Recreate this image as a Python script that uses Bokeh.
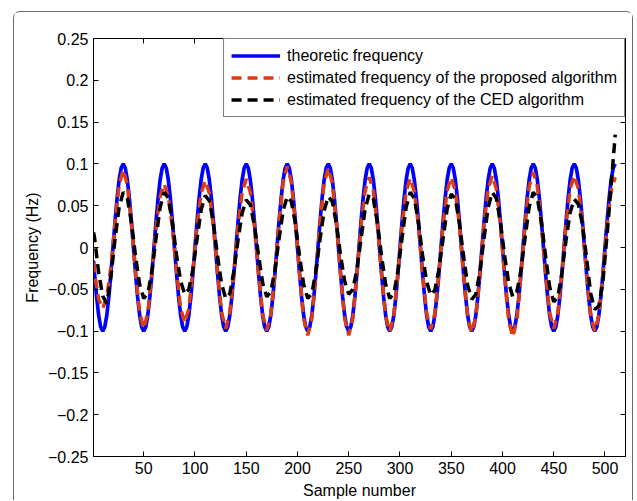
from bokeh.plotting import figure
from bokeh.models import Range1d, FixedTicker, LinearAxis
from bokeh.embed import file_html
from bokeh.resources import INLINE

# ---------------- data ----------------
sample_fine = [1] + list(range(2, 511, 2))      # sample numbers for the theoretic curve
sample_coarse = [1] + list(range(2, 511, 4))    # sample numbers for the estimated curves

theoretic = [
    -0.0156,
    -0.0309, -0.0588, -0.0809, -0.0951, -0.1, -0.0951, -0.0809, -0.0588, -0.0309, 0.0, 0.0309, 0.0588, 0.0809, 0.0951, 0.1, 0.0951, 0.0809, 0.0588, 0.0309, 0.0,
    -0.0309, -0.0588, -0.0809, -0.0951, -0.1, -0.0951, -0.0809, -0.0588, -0.0309, 0.0, 0.0309, 0.0588, 0.0809, 0.0951, 0.1, 0.0951, 0.0809, 0.0588, 0.0309, 0.0,
    -0.0309, -0.0588, -0.0809, -0.0951, -0.1, -0.0951, -0.0809, -0.0588, -0.0309, 0.0, 0.0309, 0.0588, 0.0809, 0.0951, 0.1, 0.0951, 0.0809, 0.0588, 0.0309, 0.0,
    -0.0309, -0.0588, -0.0809, -0.0951, -0.1, -0.0951, -0.0809, -0.0588, -0.0309, 0.0, 0.0309, 0.0588, 0.0809, 0.0951, 0.1, 0.0951, 0.0809, 0.0588, 0.0309, 0.0,
    -0.0309, -0.0588, -0.0809, -0.0951, -0.1, -0.0951, -0.0809, -0.0588, -0.0309, 0.0, 0.0309, 0.0588, 0.0809, 0.0951, 0.1, 0.0951, 0.0809, 0.0588, 0.0309, 0.0,
    -0.0309, -0.0588, -0.0809, -0.0951, -0.1, -0.0951, -0.0809, -0.0588, -0.0309, 0.0, 0.0309, 0.0588, 0.0809, 0.0951, 0.1, 0.0951, 0.0809, 0.0588, 0.0309, 0.0,
    -0.0309, -0.0588, -0.0809, -0.0951, -0.1, -0.0951, -0.0809, -0.0588, -0.0309, 0.0, 0.0309, 0.0588, 0.0809, 0.0951, 0.1, 0.0951, 0.0809, 0.0588, 0.0309, 0.0,
    -0.0309, -0.0588, -0.0809, -0.0951, -0.1, -0.0951, -0.0809, -0.0588, -0.0309, 0.0, 0.0309, 0.0588, 0.0809, 0.0951, 0.1, 0.0951, 0.0809, 0.0588, 0.0309, 0.0,
    -0.0309, -0.0588, -0.0809, -0.0951, -0.1, -0.0951, -0.0809, -0.0588, -0.0309, 0.0, 0.0309, 0.0588, 0.0809, 0.0951, 0.1, 0.0951, 0.0809, 0.0588, 0.0309, 0.0,
    -0.0309, -0.0588, -0.0809, -0.0951, -0.1, -0.0951, -0.0809, -0.0588, -0.0309, 0.0, 0.0309, 0.0588, 0.0809, 0.0951, 0.1, 0.0951, 0.0809, 0.0588, 0.0309, 0.0,
    -0.0309, -0.0588, -0.0809, -0.0951, -0.1, -0.0951, -0.0809, -0.0588, -0.0309, 0.0, 0.0309, 0.0588, 0.0809, 0.0951, 0.1, 0.0951, 0.0809, 0.0588, 0.0309, 0.0,
    -0.0309, -0.0588, -0.0809, -0.0951, -0.1, -0.0951, -0.0809, -0.0588, -0.0309, 0.0, 0.0309, 0.0588, 0.0809, 0.0951, 0.1, 0.0951, 0.0809, 0.0588, 0.0309, 0.0,
    -0.0309, -0.0588, -0.0809, -0.0951, -0.1, -0.0951, -0.0809, -0.0588, -0.0309, 0.0, 0.0309, 0.0588, 0.0809, 0.0951, 0.1,
]

proposed = [
    -0.018,
    -0.030, -0.062,
    -0.073, -0.059, -0.023, 0.029, 0.075, 0.093, 0.075, 0.029, -0.030, -0.078,
    -0.097, -0.078, -0.030, 0.023, 0.061, 0.076, 0.061, 0.023, -0.028, -0.073,
    -0.090, -0.073, -0.028, 0.025, 0.065, 0.080, 0.065, 0.025, -0.030, -0.078,
    -0.097, -0.078, -0.030, 0.025, 0.066, 0.082, 0.066, 0.025, -0.031, -0.080,
    -0.099, -0.080, -0.031, 0.030, 0.078, 0.097, 0.078, 0.030, -0.032, -0.085,
    -0.105, -0.085, -0.032, 0.029, 0.077, 0.095, 0.077, 0.029, -0.032, -0.085,
    -0.105, -0.085, -0.032, 0.026, 0.068, 0.084, 0.068, 0.026, -0.031, -0.082,
    -0.101, -0.082, -0.031, 0.026, 0.067, 0.083, 0.067, 0.026, -0.030, -0.079,
    -0.098, -0.079, -0.030, 0.026, 0.068, 0.084, 0.068, 0.026, -0.032, -0.083,
    -0.102, -0.083, -0.032, 0.027, 0.070, 0.086, 0.070, 0.027, -0.033, -0.087,
    -0.107, -0.087, -0.033, 0.028, 0.073, 0.090, 0.073, 0.028, -0.030, -0.078,
    -0.097, -0.078, -0.030, 0.027, 0.070, 0.086, 0.070, 0.027, -0.031, -0.081,
    -0.100, -0.081, -0.031, 0.026, 0.068, 0.084,
]

ced = [
    0.018,
    0.012, -0.030,
    -0.058, -0.067, -0.035, 0.010, 0.048, 0.066, 0.059, 0.030, -0.010, -0.044,
    -0.061, -0.055, -0.028, 0.011, 0.048, 0.066, 0.059, 0.030, -0.009, -0.040,
    -0.056, -0.050, -0.026, 0.010, 0.045, 0.062, 0.056, 0.029, -0.010, -0.044,
    -0.061, -0.055, -0.028, 0.009, 0.041, 0.057, 0.051, 0.026, -0.009, -0.042,
    -0.059, -0.053, -0.027, 0.010, 0.044, 0.061, 0.055, 0.028, -0.010, -0.044,
    -0.061, -0.055, -0.028, 0.010, 0.044, 0.061, 0.055, 0.028, -0.009, -0.040,
    -0.056, -0.050, -0.026, 0.010, 0.046, 0.064, 0.058, 0.029, -0.010, -0.044,
    -0.061, -0.055, -0.028, 0.011, 0.048, 0.066, 0.059, 0.030, -0.009, -0.041,
    -0.057, -0.051, -0.026, 0.010, 0.046, 0.064, 0.058, 0.029, -0.010, -0.045,
    -0.062, -0.056, -0.029, 0.011, 0.048, 0.066, 0.059, 0.030, -0.009, -0.042,
    -0.059, -0.053, -0.027, 0.011, 0.048, 0.066, 0.059, 0.030, -0.010, -0.047,
    -0.065, -0.059, -0.030, 0.009, 0.042, 0.058, 0.052, 0.027, -0.012, -0.055,
    -0.074, -0.070, -0.040, 0.015, 0.075, 0.135,
]

x_ticks = [50, 100, 150, 200, 250, 300, 350, 400, 450, 500]
y_ticks = [-0.25, -0.2, -0.15, -0.1, -0.05, 0, 0.05, 0.1, 0.15, 0.2, 0.25]
y_tick_labels = ["\u22120.25", "\u22120.2", "\u22120.15", "\u22120.1", "\u22120.05", "0",
                 "0.05", "0.1", "0.15", "0.2", "0.25"]

series_labels = ["theoretic frequency",
                 "estimated frequency of the proposed algorithm",
                 "estimated frequency of the CED algorithm"]

FONT = "Liberation Sans"

# ---------------- figure ----------------
p = figure(width=620, height=489, output_backend="svg", toolbar_location=None,
           x_range=Range1d(1, 520), y_range=Range1d(-0.25, 0.25),
           x_axis_label="Sample number", y_axis_label="Frequency (Hz)",
           min_border_left=79, min_border_right=9, min_border_top=26, min_border_bottom=45)
p.margin = (11, 0, 0, 13)
p.styles = {"border": "1px solid #6a6a6a", "border-bottom": "none",
            "border-radius": "7px 7px 0 0"}

p.xgrid.visible = False
p.ygrid.visible = False
p.outline_line_color = "black"
p.outline_line_width = 1
p.background_fill_color = "white"
p.border_fill_color = "white"

p.line(sample_fine, theoretic, line_color="#0000ff", line_width=3.7,
       legend_label=series_labels[0])
p.line(sample_coarse, proposed, line_color="#dc3c14", line_width=3.5,
       line_dash="10 6", legend_label=series_labels[1])
p.line(sample_coarse, ced, line_color="black", line_width=3.5,
       line_dash="10 6", legend_label=series_labels[2])

top_axis = LinearAxis()
right_axis = LinearAxis()
p.add_layout(top_axis, "above")
p.add_layout(right_axis, "right")

xt = FixedTicker(ticks=x_ticks, minor_ticks=[])
yt = FixedTicker(ticks=y_ticks, minor_ticks=[])
for ax in p.xaxis:
    ax.ticker = xt
for ax in p.yaxis:
    ax.ticker = yt
p.yaxis[0].major_label_overrides = dict(zip(y_ticks, y_tick_labels))

for ax in p.axis:
    ax.axis_line_color = "black"
    ax.axis_line_width = 1
    ax.major_tick_line_color = "black"
    ax.major_tick_in = 5
    ax.major_tick_out = 0
    ax.minor_tick_line_color = None
    ax.major_label_text_font = FONT
    ax.major_label_text_font_size = "16px"
    ax.major_label_text_color = "black"
    ax.axis_label_text_font = FONT
    ax.axis_label_text_font_size = "16px"
    ax.axis_label_text_font_style = "normal"
    ax.axis_label_text_color = "black"

p.xaxis[0].major_label_standoff = 10
p.xaxis[0].axis_label_standoff = -6
p.yaxis[0].major_label_standoff = 5
p.yaxis[0].axis_label_standoff = 4
for ax in (top_axis, right_axis):
    ax.major_label_text_color = None
    ax.major_label_text_font_size = "1px"
    ax.major_label_standoff = 0

lg = p.legend[0]
lg.location = "top_right"
lg.margin = 0
lg.padding = 7
lg.spacing = 3
lg.glyph_width = 49
lg.glyph_height = 19
lg.label_height = 19
lg.label_standoff = 7
lg.border_line_color = "black"
lg.border_line_width = 1
lg.background_fill_alpha = 1
lg.label_text_font = FONT
lg.label_text_font_size = "16px"
lg.label_text_color = "black"

open("out.html", "w").write(file_html(p, INLINE))
